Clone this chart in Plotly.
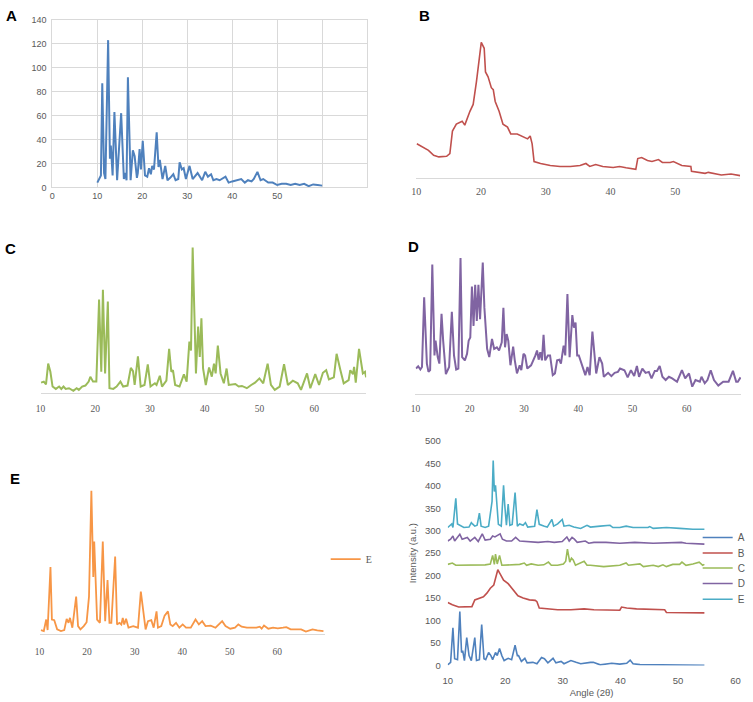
import plotly.graph_objects as go

# ---------------- data ----------------
# Panel A (2theta, intensity)
A_x = [10, 10.8, 11.1, 11.5, 11.8, 12.4, 12.8, 13.0, 13.4, 13.8, 14.4, 15.3, 15.9, 16.2, 16.5, 16.8, 17.4, 17.9, 18.3, 18.8,
       19.0, 19.4, 19.7, 20.1, 20.6, 21.1, 21.5, 21.9, 22.2, 22.6, 23.2, 23.6, 23.9, 24.5, 25.1, 25.6, 26.2, 26.9, 27.4, 28.0,
       28.3, 28.8, 29.2, 29.7, 30.5, 31.2, 32.3, 32.9, 33.3, 34.0, 34.6, 35.3, 35.8, 36.5, 37.2, 38.5, 39.2, 40.0, 41.0, 42.0,
       42.8, 43.5, 44.3, 44.8, 45.6, 46.3, 46.9, 48, 49, 50, 51, 52, 53, 54, 55, 56, 57, 58, 59, 60]
A_y = [4, 10, 87, 12, 7, 123, 24, 35, 10, 63, 6, 62, 7, 12, 6, 92, 6, 31, 26, 8,
       12, 32, 15, 39, 10, 9, 16, 11, 18, 15, 46, 17, 23, 7, 18, 6, 8, 11, 6, 7,
       21, 15, 16, 7, 18, 7, 12, 9, 6, 13, 9, 11, 6, 7, 6, 9, 4, 5, 6, 7,
       4, 6, 5, 7, 13, 6, 7, 4, 4, 2, 3, 3, 2, 3, 2, 3, 1, 2.5, 2, 1.5]

# Panel B (arbitrary intensity units)
B_x = [10.1, 10.9, 11.9, 12.7, 13.5, 14.7, 15.2, 15.6, 16.2, 17.1, 17.5, 18.3, 18.8, 19.3, 19.7, 20.05, 20.5, 20.7, 21.1, 21.6,
       21.9, 22.2, 22.8, 23.4, 24.1, 24.6, 25.6, 26.6, 27.2, 27.6, 27.9, 28.2, 29.2, 30.7, 32.2, 33.8, 35.3, 36.2, 36.8, 37.7,
       38.8, 40.4, 41.4, 42.4, 43.9, 44.2, 44.8, 45.7, 46.4, 47.4, 48.0, 49.2, 49.7, 51.0, 52.0, 52.4, 52.5, 54.6, 55.1, 57.1,
       58.6, 60.0]
B_y = [35, 31.7, 28.3, 23.3, 21.7, 22.3, 25, 48, 55, 58, 54, 68, 75, 98, 122, 138, 132, 108, 103, 92,
       90, 78, 68, 55, 52, 45, 45, 42, 40, 43, 35, 17, 15, 13, 12, 12, 13, 15, 12, 14,
       12, 11, 12, 10.7, 9, 20, 21, 18, 17, 19, 16, 16, 17, 13, 12, 12, 7, 5, 6, 3.3,
       4.3, 2.7]

# Panel C
C_x = [10.1, 10.6, 11.0, 11.4, 11.8, 12.2, 12.8, 13.4, 13.8, 14.2, 14.6, 15.2, 16.0, 16.6, 17.0, 17.6, 18.2, 18.8, 19.1, 19.6,
       20.2, 20.7, 21.1, 21.4, 21.8, 22.3, 22.6, 23.3, 23.9, 24.6, 25.1, 25.9, 26.5, 26.9, 27.2, 27.8, 28.3, 29.0, 29.6, 30.1,
       30.9, 31.2, 31.8, 32.2, 33.0, 33.5, 33.9, 34.2, 34.6, 35.4, 36.2, 36.7, 37.2, 37.5, 37.8, 38.1, 38.4, 38.8, 39.1, 39.4,
       39.7, 40.2, 40.8, 41.3, 41.7, 42.0, 42.4, 42.9, 43.5, 44.0, 44.4, 45.6, 46.2, 46.8, 47.7, 48.5, 49.2, 50.0, 50.7, 51.5,
       52.1, 52.8, 53.7, 54.5, 55.2, 56.1, 57.0, 57.6, 58.7, 59.3, 60.2, 60.9, 61.6, 62.2, 62.7, 63.6, 64.1, 64.8, 65.4, 66.3,
       66.6, 67.1, 67.3, 67.6, 68.2, 68.9, 69.3, 69.5]
C_y = [10.7, 11.7, 9, 30, 21.7, 6.7, 4.3, 6.7, 4.3, 6.7, 4.3, 5, 2.3, 5, 3.3, 6.7, 7.7, 11.7, 16.7, 11.7,
       11.7, 95, 21.7, 105, 20, 93, 5, 4.3, 6.7, 11.7, 6.7, 7.7, 25.7, 22.3, 8.3, 37.3, 6.7, 8.3, 29.3, 6.7,
       10, 8.3, 17.7, 6.7, 12.7, 45, 21.7, 23.3, 8.3, 6.7, 19, 11.7, 52.3, 43.3, 148, 91.7, 20, 67.7, 36.7, 76,
       25, 8.3, 26, 16.7, 30, 20, 48.3, 20, 10, 25, 8.3, 9.3, 6.7, 7.3, 5, 8.3, 10.7, 15, 10, 30,
       8.3, 3.3, 6.7, 29.3, 8.3, 12.7, 10, 3.3, 20, 5, 19.3, 8.3, 20.7, 23.3, 14, 16, 40, 23.3, 10, 13.3,
       23.3, 19.3, 26.7, 10.7, 45, 20, 21.7, 16]

# Panel D
D_x = [10.1, 10.5, 10.9, 11.2, 11.6, 12.1, 12.4, 12.7, 13.1, 13.5, 13.7, 14.1, 14.4, 14.8, 15.1, 15.6, 16.2, 16.7, 17.1, 17.5,
       17.9, 18.3, 18.6, 19.1, 19.5, 19.8, 20.1, 20.4, 20.7, 21.0, 21.3, 21.6, 21.9, 22.4, 22.7, 23.2, 23.6, 24.1, 24.5, 25.0,
       25.4, 25.9, 26.2, 26.5, 26.8, 27.1, 27.5, 28.0, 28.3, 28.7, 29.2, 29.5, 29.9, 30.2, 30.6, 31.3, 32.1, 32.4, 32.7, 33.0,
       33.3, 33.6, 33.9, 34.4, 34.8, 35.3, 35.7, 36.1, 36.5, 36.8, 37.3, 37.6, 38.0, 38.4, 38.9, 39.2, 39.5, 39.8, 40.1, 40.4,
       40.9, 41.3, 41.7, 42.1, 42.6, 43.0, 43.3, 43.9, 44.4, 44.7, 45.5, 46.1, 46.7, 47.3, 47.7, 48.5, 49.1, 49.7, 50.3, 50.8,
       51.2, 51.8, 52.4, 53.0, 53.5, 54.1, 54.5, 55.0, 55.5, 56.1, 56.7, 57.3, 58.2, 59.1, 59.7, 60.4, 61.0, 61.6, 62.4, 62.7,
       63.3, 63.8, 64.4, 65.0, 65.8, 66.7, 67.7, 68.5, 69.1, 69.4, 69.9]
D_y = [25.7, 28, 24.7, 27.3, 98, 30.7, 22.3, 24, 131.3, 39, 54, 37.3, 30.7, 81.3, 54, 20, 27.3, 83.3, 39, 24.7,
       25.7, 138, 37.3, 34, 40.7, 54, 57.3, 109, 69, 110.7, 74, 110.7, 75.7, 133.3, 87.3, 45.7, 37.3, 55.7, 45.7, 47.3,
       44, 52.3, 87.3, 47.3, 60.7, 54, 29, 48, 34, 20.7, 29, 24, 40.7, 39, 25.7, 29, 39, 44, 34.7, 42.3,
       34, 60, 34, 39, 39, 19, 20.7, 34, 34.7, 30.7, 49, 39, 101.3, 37.3, 80, 67.3, 72.3, 39, 39, 34,
       27.3, 19, 27.3, 19, 63.3, 34, 20.7, 37.3, 30.7, 17.3, 21.3, 18, 21.3, 22.3, 25.7, 24, 16.7, 24, 18, 28.3,
       17.3, 25.7, 21.3, 22.3, 15.7, 23.3, 23.3, 28.3, 17.3, 14, 17.3, 15.7, 12.3, 24, 15.7, 20.7, 7.3, 14, 12.3, 17.3,
       10.7, 14, 24, 14, 8.3, 12.3, 12.3, 23.3, 12.3, 12.3, 16.7]

# Panel E
E_x = [10.3, 10.9, 11.4, 11.7, 12.3, 12.6, 13.1, 13.7, 14.5, 15.2, 15.7, 16.1, 16.4, 16.9, 17.7, 18.1, 18.6, 19.3, 19.9, 20.4,
       20.9, 21.3, 21.5, 21.8, 22.1, 22.7, 23.3, 23.8, 24.3, 24.7, 25.1, 25.9, 26.3, 26.8, 27.2, 27.5, 27.8, 28.2, 28.7, 29.7,
       30.7, 31.3, 31.8, 32.3, 32.8, 33.5, 34.0, 34.6, 34.9, 35.6, 36.3, 37.0, 37.5, 38.0, 38.7, 39.4, 40.1, 40.8, 41.8, 42.8,
       43.5, 44.2, 44.9, 46.0, 47.0, 47.6, 48.4, 49.1, 50.1, 51.1, 51.8, 52.5, 53.6, 54.6, 55.6, 56.3, 56.7, 57.2, 58.1, 59.1,
       60.1, 61.2, 61.9, 62.8, 63.9, 65.0, 66.0, 67.4, 68.4, 69.7]
E_y = [4.3, 3.3, 15, 4.3, 68.3, 15, 14.3, 5, 3.3, 4.3, 15.7, 11.7, 16.7, 6.7, 38.3, 8.3, 5, 8.3, 12.3, 38.3,
       145.7, 58.3, 94.3, 41.7, 15, 11.7, 94.3, 13.3, 55, 11.7, 11.7, 79, 10, 11.7, 10, 16.7, 10, 15.7, 6.7, 8.3,
       6.7, 43.3, 21.7, 5, 13.3, 14.3, 6.7, 23.3, 6.7, 8.3, 19, 23.3, 10, 8.3, 11.7, 6.7, 10, 6.7, 6.7, 15,
       10, 13.3, 8.3, 8.8, 6.7, 10, 13.3, 8.3, 5.7, 6.7, 10, 7.7, 6.7, 6.7, 6.7, 7.7, 5.7, 9, 5.7, 6.7,
       6, 6.7, 7.3, 5, 5, 5, 2.7, 5, 4, 3.3]

# Combined (offset) panel
cA_x = [10.0, 10.5, 10.9, 11.2, 11.7, 12.1, 12.4, 12.6, 12.9, 13.3, 13.7, 14.1, 14.7, 15.0, 15.5, 15.9, 16.3, 16.6, 17.1, 17.5,
        17.8, 18.3, 18.6, 19.0, 19.4, 19.8, 20.5, 21.1, 21.7, 22.1, 22.3, 22.8, 23.4, 23.8, 24.8, 25.5, 26.3, 26.8, 27.4, 28.3,
        28.8, 29.7, 30.2, 31.4, 32.3, 33.1, 34.8, 35.3, 36.5, 37.7, 38.5, 39.9, 41.1, 41.7, 42.2, 43.4, 45.7, 48.5, 51.4, 54.6]
cA_y = [1.5, 7, 84, 15, 13, 120, 29, 33, 11, 62, 22, 11, 62, 11, 13, 91, 15, 13, 29, 22,
        13, 29, 22, 38, 22, 11, 16, 13, 45, 22, 22, 9, 16, 6, 7, 4, 18, 15, 6, 16,
        6, 9, 4, 11, 7, 4, 7, 7, 1.5, 4, 5, 3, 5, 12, 4, 2, 1.5, 1.5, 0.5, 0.5]
cB_x = [10, 10.8, 11.9, 13.7, 14.2, 14.7, 15.4, 16.2, 16.8, 17.4, 18.0, 18.3, 18.7, 19.1, 19.7, 20.5, 21.4, 22.2, 23.1, 24.2,
        25.2, 25.5, 25.9, 27.4, 29.1, 31.4, 33.7, 35.4, 37.1, 39.9, 40.2, 41.1, 42.8, 45.7, 47.7, 48.0, 51.4, 54.6]
cB_y = [140, 135, 130, 130, 131, 146, 150, 153, 161, 172, 179, 193, 213, 204, 190, 182, 168, 155, 150, 146,
        145, 142, 128, 126, 124, 124, 126, 124, 124, 123, 130, 128, 126, 124, 124, 118, 117, 117]
cC_x = [10, 10.8, 11.4, 13.1, 14.8, 16.5, 17.4, 17.8, 18.1, 18.3, 18.6, 19.0, 19.4, 20.5, 21.7, 22.5, 23.3, 23.7, 24.5, 25.7,
        26.7, 27.5, 28.0, 29.1, 30.1, 30.5, 30.8, 31.2, 31.5, 31.8, 32.2, 32.8, 33.7, 34.2, 34.8, 37.1, 39.9, 41.0, 41.4, 43.4,
        44.0, 45.7, 46.6, 47.4, 48.0, 49.1, 50.3, 50.7, 51.4, 52.6, 53.7, 54.3, 54.6]
cC_y = [225, 228, 223, 223, 223, 224, 226, 245, 225, 248, 226, 245, 223, 224, 224, 225, 228, 223, 226, 223,
        224, 230, 223, 223, 226, 232, 259, 230, 239, 235, 223, 226, 232, 223, 223, 220, 223, 228, 223, 226,
        220, 223, 220, 224, 220, 225, 225, 230, 223, 226, 230, 223, 225]
cD_x = [10, 10.5, 10.9, 11.2, 12.1, 12.5, 13.4, 13.9, 14.7, 15.3, 16.0, 16.5, 17.4, 17.8, 18.2, 18.7, 19.1, 19.5, 20.2, 21.1,
        21.8, 22.5, 23.9, 25.7, 27.4, 28.5, 29.9, 30.7, 31.1, 31.6, 32.0, 32.5, 33.9, 34.5, 35.4, 37.5, 39.9, 42.5, 45.7, 48.0,
        50.6, 51.4, 54.6]
cD_y = [277, 281, 288, 277, 292, 281, 285, 277, 285, 276, 293, 279, 281, 288, 286, 291, 293, 281, 277, 277,
        285, 277, 276, 274, 276, 274, 276, 286, 277, 285, 281, 274, 277, 272, 274, 274, 272, 274, 272, 273,
        274, 272, 270]
cE_x = [10, 10.7, 10.9, 11.4, 11.7, 12.1, 12.8, 13.7, 14.1, 14.3, 14.7, 15.1, 15.5, 15.8, 16.5, 17.1, 17.7, 17.9, 18.1, 18.3,
        18.6, 18.8, 19.3, 19.7, 19.9, 20.2, 20.5, 20.8, 21.2, 21.7, 22.1, 22.5, 23.1, 23.5, 23.9, 25.1, 25.5, 25.9, 26.8, 27.3,
        28.1, 28.4, 29.1, 29.5, 29.9, 30.2, 31.1, 31.9, 33.1, 34.2, 34.8, 36.5, 38.2, 38.7, 39.9, 41.0, 42.2, 44.8, 45.1, 45.7,
        48.0, 50.3, 52.6, 54.6]
cE_y = [307, 315, 307, 372, 315, 312, 307, 308, 318, 315, 310, 312, 339, 310, 307, 310, 365, 456, 387, 401,
        358, 314, 310, 401, 358, 312, 359, 312, 314, 385, 310, 315, 312, 318, 308, 310, 347, 314, 310, 308,
        325, 310, 315, 321, 325, 310, 312, 308, 305, 312, 308, 310, 312, 307, 307, 310, 307, 307, 309, 305,
        307, 305, 303, 303]

series_names = ["A", "B", "C", "D", "E"]
panel_ticks = [10, 20, 30, 40, 50, 60]

# ---------------- styling / layout helpers ----------------
W, H = 753, 702
def fx(p):
    return p / W
def fy(p):
    return 1 - p / H

BLUE, RED, GREEN, PURPLE, CYAN, ORANGE = "#4F81BD", "#C0504D", "#9BBB59", "#8064A2", "#4BACC6", "#F79646"
GRAY = "#595959"
SANS = "Liberation Sans, Arial, sans-serif"
SERIF = "Liberation Serif, Times New Roman, serif"

fig = go.Figure()
fig.add_trace(go.Scatter(x=A_x, y=A_y, mode="lines", line=dict(color=BLUE, width=2), showlegend=False, xaxis="x", yaxis="y"))
fig.add_trace(go.Scatter(x=B_x, y=B_y, mode="lines", line=dict(color=RED, width=1.6), showlegend=False, xaxis="x2", yaxis="y2"))
fig.add_trace(go.Scatter(x=C_x, y=C_y, mode="lines", line=dict(color=GREEN, width=2), showlegend=False, xaxis="x3", yaxis="y3"))
fig.add_trace(go.Scatter(x=D_x, y=D_y, mode="lines", line=dict(color=PURPLE, width=2), showlegend=False, xaxis="x4", yaxis="y4"))
fig.add_trace(go.Scatter(x=E_x, y=E_y, mode="lines", name="E", line=dict(color=ORANGE, width=1.8), showlegend=True,
                         legend="legend", xaxis="x5", yaxis="y5"))

comb = [(cA_x, cA_y, BLUE), (cB_x, cB_y, RED), (cC_x, cC_y, GREEN), (cD_x, cD_y, PURPLE), (cE_x, cE_y, CYAN)]
for i, (xs, ys, col) in enumerate(comb):
    fig.add_trace(go.Scatter(x=xs, y=ys, mode="lines", name=series_names[i], line=dict(color=col, width=1.6),
                             showlegend=True, legend="legend%d" % (i + 2), xaxis="x6", yaxis="y6"))

hidden_y = dict(visible=False, range=[0, 160], fixedrange=True)
def panel_x(dom, rng, anchor, size=9.5, tl=6):
    return dict(domain=dom, range=rng, anchor=anchor, tickvals=[t for t in panel_ticks if t < rng[1] - 1e-9],
                showgrid=False, zeroline=False, showline=True, linecolor="#d9d9d9", linewidth=1.3,
                ticks="outside", ticklen=tl, tickcolor="rgba(0,0,0,0)",
                tickfont=dict(family=SERIF, size=size, color=GRAY))

layout = dict(
    width=W, height=H, margin=dict(l=0, r=0, t=0, b=0),
    paper_bgcolor="white", plot_bgcolor="white",
    xaxis=dict(domain=[fx(48), fx(367)], range=[0, 70], anchor="y",
               tickvals=[0, 10, 20, 30, 40, 50, 60, 70], ticktext=["0", "10", "20", "30", "40", "50", "", ""],
               showgrid=True, gridcolor="#d9d9d9", gridwidth=1, zeroline=False,
               showline=True, mirror=True, linecolor="#d9d9d9", linewidth=1,
               ticks="", tickfont=dict(family=SANS, size=9, color=GRAY)),
    yaxis=dict(domain=[fy(184.3), fy(14)], range=[0, 140], anchor="x", dtick=20,
               showgrid=True, gridcolor="#d9d9d9", gridwidth=1, zeroline=False,
               showline=True, mirror=True, linecolor="#d9d9d9", linewidth=1,
               ticks="outside", ticklen=3, tickcolor="rgba(0,0,0,0)",
               tickfont=dict(family=SANS, size=9, color=GRAY)),
    xaxis2=panel_x([fx(416.7), fx(745)], [10, 60], "y2", size=10, tl=4),
    yaxis2=dict(hidden_y, domain=[fy(175), fy(15)], anchor="x2"),
    xaxis3=panel_x([fx(36), fx(366)], [10, 69.5], "y3"),
    yaxis3=dict(hidden_y, domain=[fy(393.3), fy(233.3)], anchor="x3"),
    xaxis4=panel_x([fx(416), fx(746)], [10, 70], "y4"),
    yaxis4=dict(hidden_y, domain=[fy(394), fy(234)], anchor="x4"),
    xaxis5=panel_x([fx(35), fx(324.2)], [10, 70], "y5", tl=8),
    yaxis5=dict(hidden_y, domain=[fy(638.3), fy(478.3)], anchor="x5"),
    xaxis6=dict(domain=[fx(448.7), fx(740.3)], range=[10, 60], anchor="y6", dtick=10,
                showgrid=False, zeroline=False, showline=False,
                ticks="outside", ticklen=6, tickcolor="rgba(0,0,0,0)",
                tickfont=dict(family=SANS, size=9.5, color=GRAY),
                title=dict(text="Angle (2θ)", font=dict(family=SANS, size=9.5, color=GRAY), standoff=4)),
    yaxis6=dict(domain=[fy(670), fy(441.7)], range=[0, 500], anchor="x6", dtick=50,
                showgrid=False, zeroline=False, showline=False,
                ticks="outside", ticklen=4, tickcolor="rgba(0,0,0,0)",
                tickfont=dict(family=SANS, size=9.5, color=GRAY),
                title=dict(text="Intensity (a.u.)", font=dict(family=SANS, size=9.5, color=GRAY), standoff=6)),
    legend=dict(x=fx(325), y=fy(562), xanchor="left", yanchor="middle", bgcolor="rgba(0,0,0,0)",
                font=dict(family=SERIF, size=10, color=GRAY)),
)
leg_y = [540, 555.7, 571, 586.7, 602.7]
for i, yy in enumerate(leg_y):
    layout["legend%d" % (i + 2)] = dict(x=fx(702), y=fy(yy), xanchor="left", yanchor="middle",
                                         bgcolor="rgba(0,0,0,0)", font=dict(family=SANS, size=10, color=GRAY))

labels = [("A", 7, 10), ("B", 425, 9.5), ("C", 6, 246.5), ("D", 413.5, 244.5), ("E", 10, 480.5)]
layout["annotations"] = [dict(text="<b>%s</b>" % t, x=fx(px), y=fy(py), xref="paper", yref="paper",
                              xanchor="center", yanchor="middle", showarrow=False,
                              font=dict(family=SANS, size=15, color="black")) for t, px, py in labels]

fig.update_layout(**layout)
fig.write_html("out.html", config={"displayModeBar": False},
               post_script="document.body.style.margin='0';document.body.style.overflow='hidden';")
